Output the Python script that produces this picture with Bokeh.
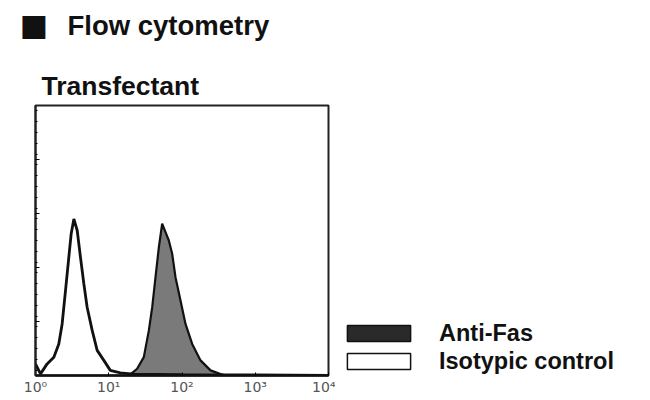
from bokeh.plotting import figure
from bokeh.layouts import column, row
from bokeh.models import Range1d, FixedTicker, Legend, LegendItem
from bokeh.core.properties import value
from bokeh.embed import file_html
from bokeh.resources import INLINE

# ---- data ----
iso_x = [1.0, 1.17, 1.44, 1.78, 2.08, 2.31, 2.57, 2.85, 3.07, 3.34, 3.71, 4.11,
         4.57, 5.07, 5.94, 6.95, 8.57, 10.5, 14.4, 21.9, 100, 1000, 10000]
iso_y = [4.3, 0.6, 4.3, 6.8, 11.7, 19.1, 31.5, 43.8, 52.5, 58.0, 53.7, 43.8,
         34.0, 25.3, 16.7, 9.3, 5.6, 1.9, 1.0, 0.5, 0.3, 0.2, 0.0]

fas_x = [18.0, 19.8, 24.4, 30.1, 35.3, 39.2, 43.5, 48.3, 53.6, 59.5, 66.1, 73.4,
         81.5, 95.4, 111.6, 137.7, 179, 245, 336, 400]
fas_y = [0.0, 0.4, 2.5, 6.8, 16.7, 25.3, 36.4, 47.5, 56.2, 53.1, 50.0, 45.1,
         36.4, 27.8, 19.1, 11.7, 5.6, 1.9, 0.5, 0.0]

x_ticks = [1, 10, 100, 1000, 10000]
x_tick_labels = ["10⁰", "10¹", "10²", "10³", "10⁴"]
y_ticks = [20, 40, 60, 80]

series_names = ["Anti-Fas", "Isotypic control"]
title_text = "Flow cytometry"
panel_text = "Transfectant"

FONT = "Liberation Sans"
INK = "#111111"

# ---- header with the two titles ----
h = figure(width=650, height=103, output_backend="svg", toolbar_location=None,
           x_range=Range1d(0, 650), y_range=Range1d(103, 0),
           min_border=0, outline_line_color=None)
h.axis.visible = False
h.grid.visible = False
h.text(x=[19], y=[24], text=["■"], text_font=value("DejaVu Sans"),
       text_font_size="30px", text_color=INK, text_baseline="middle")
h.text(x=[67], y=[25], text=[title_text], text_font=value(FONT),
       text_font_size="27.5px", text_font_style="bold", text_color=INK,
       text_baseline="middle")
h.text(x=[41], y=[85], text=[panel_text], text_font=value(FONT),
       text_font_size="26.5px", text_font_style="bold", text_color=INK,
       text_baseline="middle")

# ---- main histogram ----
p = figure(width=335, height=297, output_backend="svg", toolbar_location=None,
           x_axis_type="log", x_range=Range1d(1, 10000), y_range=Range1d(0, 100),
           min_border_left=35, min_border_right=7, min_border_top=2,
           min_border_bottom=25)

p.outline_line_color = "#222222"
p.outline_line_width = 2
p.xgrid.visible = False
p.ygrid.visible = False

p.patch(fas_x, fas_y, fill_color="#7a7a7a", line_color=INK, line_width=2.2)
p.line(iso_x, iso_y, line_color=INK, line_width=2.8)

xa = p.xaxis[0]
xa.ticker = FixedTicker(ticks=x_ticks)
xa.major_label_overrides = {t: l for t, l in zip(x_ticks, x_tick_labels)}
xa.axis_line_width = 2.5
xa.axis_line_color = INK
xa.major_tick_in = 3
xa.major_tick_out = 0
xa.minor_tick_in = 2
xa.minor_tick_out = 0
xa.major_label_standoff = 3
xa.major_label_text_font = "DejaVu Sans"
xa.major_label_text_font_size = "14px"
xa.major_label_text_color = "#555555"

ya = p.yaxis[0]
ya.ticker = FixedTicker(ticks=y_ticks, minor_ticks=list(range(2, 100, 4)))
ya.major_label_overrides = {t: "" for t in y_ticks}
ya.axis_line_width = 2
ya.axis_line_color = "#222222"
ya.major_tick_in = 4
ya.major_tick_out = 0
ya.minor_tick_in = 2
ya.minor_tick_out = 0

# ---- legend panel ----
lg = figure(width=315, height=297, output_backend="svg", toolbar_location=None,
            x_range=Range1d(0, 315), y_range=Range1d(0, 297),
            min_border=0, outline_line_color=None)
lg.axis.visible = False
lg.grid.visible = False
# swatch-only renderers (hidden, used only for the legend glyphs)
r_fas = lg.quad(left=[0], right=[1], top=[1], bottom=[0], fill_color="#2a2a2a",
                line_color=INK, line_width=1.5, visible=False)
r_iso = lg.quad(left=[0], right=[1], top=[1], bottom=[0], fill_color="white",
                line_color=INK, line_width=1.5, visible=False)
legend = Legend(items=[LegendItem(label=series_names[0], renderers=[r_fas]),
                       LegendItem(label=series_names[1], renderers=[r_iso])],
                location=(4, 0), glyph_width=79, glyph_height=20,
                label_height=28, label_standoff=21, label_text_font=FONT,
                label_text_font_size="23.5px", label_text_font_style="bold",
                label_text_color=INK, spacing=0, padding=0, margin=0,
                border_line_color=None, background_fill_alpha=0)
lg.add_layout(legend)

layout = column(h, row(p, lg, spacing=0), spacing=0)
open("out.html", "w").write(file_html(layout, INLINE))
